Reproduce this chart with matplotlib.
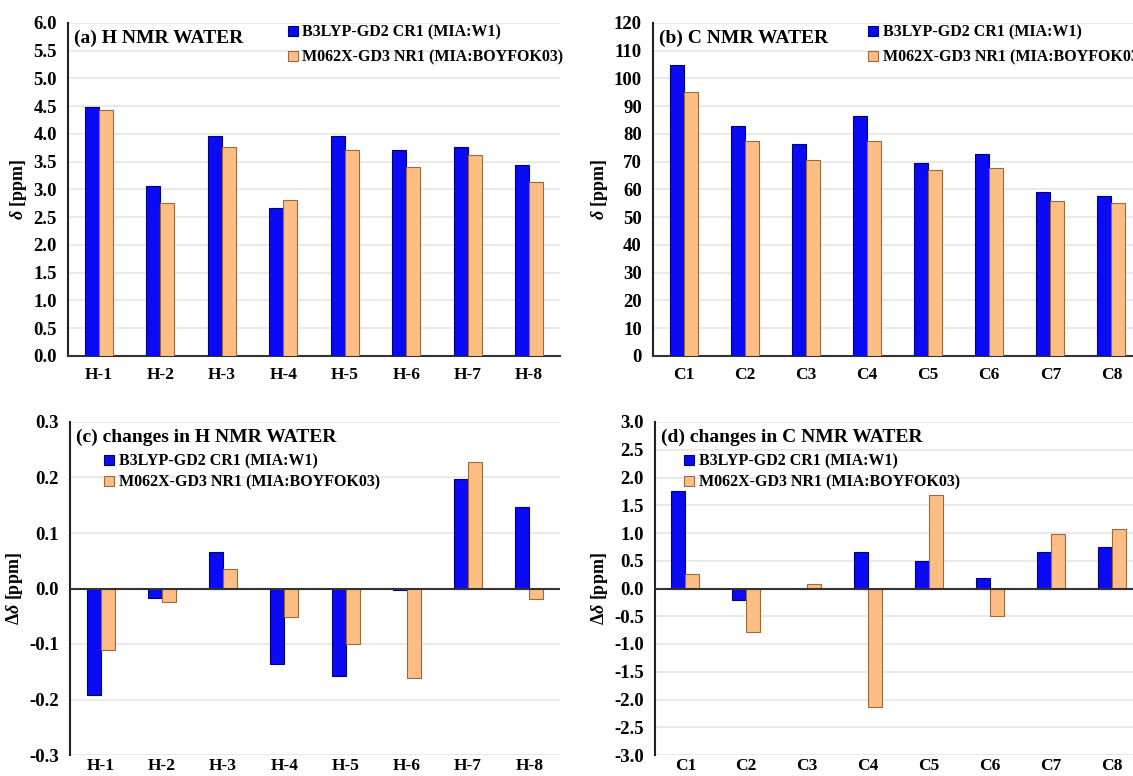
import matplotlib
matplotlib.use("Agg")
import matplotlib.pyplot as plt
import numpy as np
from matplotlib.ticker import MultipleLocator, FormatStrFormatter

plt.rcParams['font.family'] = ['Liberation Serif', 'DejaVu Serif']
plt.rcParams['font.weight'] = 'bold'
plt.rcParams['mathtext.fontset'] = 'custom'
plt.rcParams['mathtext.it'] = 'Liberation Serif:italic:bold'
plt.rcParams['mathtext.rm'] = 'Liberation Serif:bold'

h_labels = ["H-1", "H-2", "H-3", "H-4", "H-5", "H-6", "H-7", "H-8"]
c_labels = ["C1", "C2", "C3", "C4", "C5", "C6", "C7", "C8"]

series_names = ["B3LYP-GD2 CR1 (MIA:W1)", "M062X-GD3 NR1 (MIA:BOYFOK03)"]

h_b3lyp = [4.49, 3.06, 3.96, 2.67, 3.97, 3.72, 3.77, 3.44]
h_m062x = [4.43, 2.76, 3.77, 2.81, 3.71, 3.40, 3.62, 3.14]

c_b3lyp = [104.8, 83.0, 76.3, 86.6, 69.6, 72.8, 59.2, 57.7]
c_m062x = [95.0, 77.6, 70.6, 77.5, 67.0, 67.9, 56.0, 55.0]

dh_b3lyp = [-0.191, -0.017, 0.065, -0.136, -0.158, -0.002, 0.197, 0.147]
dh_m062x = [-0.110, -0.025, 0.035, -0.052, -0.100, -0.161, 0.228, -0.019]

dc_b3lyp = [1.76, -0.20, 0.0, 0.65, 0.49, 0.19, 0.65, 0.75]
dc_m062x = [0.26, -0.79, 0.08, -2.14, 1.69, -0.49, 0.99, 1.07]

blue = "#0A0AF5"
blue_edge = "#00007A"
orange = "#FCBE84"
orange_edge = "#9A6A3C"

W, H = 1133, 776
fig = plt.figure(figsize=(W / 100, H / 100), dpi=100)


def px_axes(left, right, top, bottom):
    return fig.add_axes([left / W, 1 - bottom / H, (right - left) / W, (bottom - top) / H])


def draw_panel(ax, labels, s1, s2, ylim, step, fmt, ylabel, title, legend_loc, delta):
    x = np.arange(len(labels))
    w = 0.23
    ax.bar(x - w / 2, s1, w, color=blue, edgecolor=blue_edge, linewidth=0.8, label=series_names[0], zorder=3)
    ax.bar(x + w / 2, s2, w, color=orange, edgecolor=orange_edge, linewidth=0.8, label=series_names[1], zorder=3)
    ax.set_xlim(-0.5, len(labels) - 0.5)
    ax.set_ylim(*ylim)
    ax.yaxis.set_major_locator(MultipleLocator(step))
    ax.yaxis.set_major_formatter(FormatStrFormatter(fmt))
    ax.set_xticks(x)
    ax.set_xticklabels(labels)
    ax.tick_params(axis='both', length=0)
    ax.tick_params(axis='y', labelsize=13.5, pad=8)
    ax.tick_params(axis='x', labelsize=12.5, pad=2 if delta else 8)
    ax.grid(axis='y', color='#E6E6E6', linewidth=1.2, zorder=0)
    ax.set_axisbelow(True)
    for s in ["top", "right"]:
        ax.spines[s].set_visible(False)
    ax.spines["left"].set_color("#222222")
    ax.spines["left"].set_linewidth(1.5)
    if delta:
        ax.spines["bottom"].set_visible(False)
        ax.axhline(0, color="#333333", linewidth=1.5, zorder=4)
    else:
        ax.spines["bottom"].set_color("#333333")
        ax.spines["bottom"].set_linewidth(1.5)
    ax.set_ylabel(ylabel, fontsize=13, fontweight='bold', labelpad=3)
    ax.text(0.012, 0.955, title, transform=ax.transAxes, fontsize=14,
            fontweight='bold', va='center', ha='left')
    ax.legend(loc='upper left', bbox_to_anchor=legend_loc, frameon=False,
              fontsize=11.5, handlelength=0.6, handleheight=0.6,
              handletextpad=0.3, labelspacing=0.55 if not delta else 0.3,
              borderaxespad=0, borderpad=0)


ax_a = px_axes(68, 560, 23, 356)
draw_panel(ax_a, h_labels, h_b3lyp, h_m062x, (0, 6.0), 0.5, '%.1f',
           r'$\delta$ [ppm]', "(a) H NMR WATER", (0.447, 0.995), False)

ax_b = px_axes(653, 1142, 23, 356)
draw_panel(ax_b, c_labels, c_b3lyp, c_m062x, (0, 120), 10, '%d',
           r'$\delta$ [ppm]', "(b) C NMR WATER", (0.44, 0.995), False)

ax_c = px_axes(70, 560, 422, 755)
draw_panel(ax_c, h_labels, dh_b3lyp, dh_m062x, (-0.3, 0.3), 0.1, '%.1f',
           r'$\Delta\delta$ [ppm]', "(c) changes in H NMR WATER", (0.07, 0.905), True)

ax_d = px_axes(655, 1142, 422, 755)
draw_panel(ax_d, c_labels, dc_b3lyp, dc_m062x, (-3.0, 3.0), 0.5, '%.1f',
           r'$\Delta\delta$ [ppm]', "(d) changes in C NMR WATER", (0.06, 0.905), True)

fig.savefig("out.png", dpi=100)
